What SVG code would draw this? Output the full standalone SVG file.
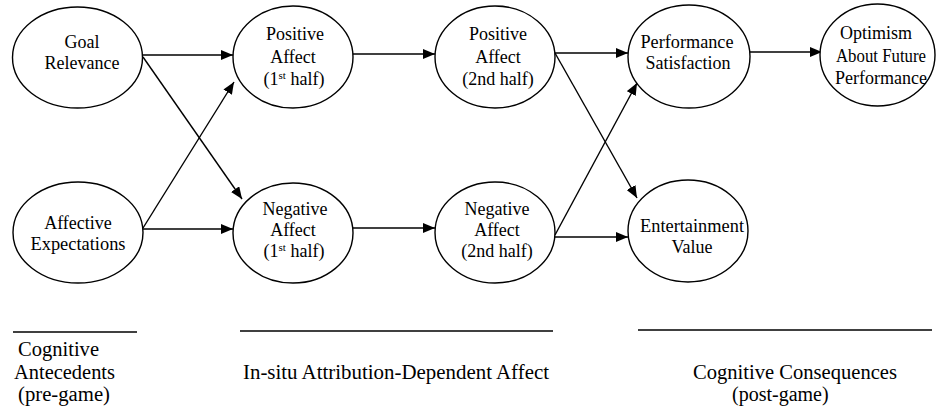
<svg xmlns="http://www.w3.org/2000/svg" width="936" height="411" viewBox="0 0 936 411">
<style>
.node ellipse{fill:#fff;stroke:#000;stroke-width:1.4}
.node text{font-size:18px;fill:#000;text-anchor:middle}
.edge{stroke:#000;stroke-width:1.4;fill:none;marker-end:url(#ah)}
.rule{stroke:#000;stroke-width:1.3}
.lab{font-size:20px;fill:#000}
.sup{font-size:11px}
</style>
<defs>
<marker id="ah" markerUnits="userSpaceOnUse" markerWidth="13" markerHeight="10" refX="12" refY="5" orient="auto">
<path d="M0,0 L12,5 L0,10 z" fill="#000"/>
</marker>
</defs>
<rect width="936" height="411" fill="#fff"/>
<g id="connectors">
<line class="edge" x1="143" y1="55" x2="233" y2="55"/>
<line class="edge" x1="143" y1="57" x2="242" y2="199"/>
<line class="edge" x1="143" y1="228" x2="234" y2="82"/>
<line class="edge" x1="143" y1="229" x2="233" y2="229"/>
<line class="edge" x1="353" y1="54" x2="435" y2="54"/>
<line class="edge" x1="353" y1="228" x2="435" y2="228"/>
<line class="edge" x1="555" y1="53" x2="628" y2="53"/>
<line class="edge" x1="555" y1="53" x2="637" y2="198"/>
<line class="edge" x1="555" y1="235" x2="637" y2="83"/>
<line class="edge" x1="555" y1="237" x2="628" y2="237"/>
<line class="edge" x1="750" y1="52" x2="822" y2="52"/>
</g>
<g font-family="'Liberation Serif', Tinos, 'Times New Roman', 'DejaVu Serif', serif">
<g id="goal-relevance" class="node">
<ellipse cx="77.5" cy="57.5" rx="65" ry="50.5"/>
<text x="82" y="48">Goal</text>
<text x="82" y="69">Relevance</text>
</g>
<g id="affective-expectations" class="node">
<ellipse cx="78" cy="232.5" rx="65" ry="50.5"/>
<text x="78" y="229">Affective</text>
<text x="78" y="250" textLength="95" lengthAdjust="spacingAndGlyphs">Expectations</text>
</g>
<g id="positive-affect-1" class="node">
<ellipse cx="293" cy="57" rx="60" ry="51"/>
<text x="295" y="40">Positive</text>
<text x="293" y="63">Affect</text>
<text x="294" y="85">(1<tspan class="sup" dy="-6">st</tspan><tspan dy="6"> half)</tspan></text>
</g>
<g id="negative-affect-1" class="node">
<ellipse cx="293" cy="233" rx="60" ry="50"/>
<text x="295" y="215">Negative</text>
<text x="293" y="236">Affect</text>
<text x="294" y="257">(1<tspan class="sup" dy="-6">st</tspan><tspan dy="6"> half)</tspan></text>
</g>
<g id="positive-affect-2" class="node">
<ellipse cx="495" cy="57" rx="60" ry="51"/>
<text x="498" y="40">Positive</text>
<text x="498" y="63">Affect</text>
<text x="498" y="85">(2nd half)</text>
</g>
<g id="negative-affect-2" class="node">
<ellipse cx="495" cy="232.5" rx="60" ry="50.5"/>
<text x="497" y="215">Negative</text>
<text x="497" y="236">Affect</text>
<text x="497" y="257">(2nd half)</text>
</g>
<g id="performance-satisfaction" class="node">
<ellipse cx="689" cy="56.5" rx="61" ry="51.5"/>
<text x="687" y="48" textLength="93" lengthAdjust="spacingAndGlyphs">Performance</text>
<text x="688" y="69">Satisfaction</text>
</g>
<g id="entertainment-value" class="node">
<ellipse cx="688" cy="231" rx="60" ry="51"/>
<text x="692" y="232" textLength="104" lengthAdjust="spacingAndGlyphs">Entertainment</text>
<text x="692" y="253">Value</text>
</g>
<g id="optimism" class="node">
<ellipse cx="877.5" cy="55" rx="57.5" ry="51"/>
<text x="876" y="39">Optimism</text>
<text x="881" y="62" textLength="90" lengthAdjust="spacingAndGlyphs">About Future</text>
<text x="881" y="84" textLength="92" lengthAdjust="spacingAndGlyphs">Performance</text>
</g>
<g id="stages">
<line class="rule" x1="13" y1="332" x2="137" y2="332"/>
<line class="rule" x1="240" y1="331" x2="553" y2="331"/>
<line class="rule" x1="638" y1="330" x2="932" y2="330"/>
<text class="lab" x="18" y="356" textLength="81" lengthAdjust="spacingAndGlyphs">Cognitive</text>
<text class="lab" x="14" y="379" textLength="101" lengthAdjust="spacingAndGlyphs">Antecedents</text>
<text class="lab" x="18" y="401" textLength="92" lengthAdjust="spacingAndGlyphs">(pre-game)</text>
<text class="lab" x="243" y="379" textLength="306" lengthAdjust="spacingAndGlyphs">In-situ Attribution-Dependent Affect</text>
<text class="lab" x="693" y="379" textLength="204" lengthAdjust="spacingAndGlyphs">Cognitive Consequences</text>
<text class="lab" x="732" y="401">(post-game)</text>
</g>
</g>
</svg>
